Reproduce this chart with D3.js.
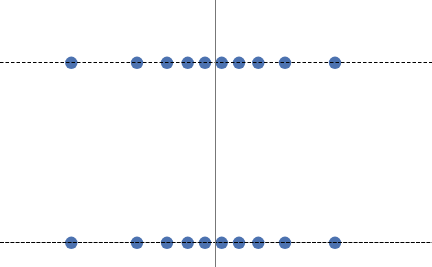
<!DOCTYPE html>
<html>
<head>
<meta charset="utf-8">
<script src="https://cdn.jsdelivr.net/npm/d3@7"></script>
<style>
  body { margin: 0; background: #fff; }
  svg { display: block; }
</style>
</head>
<body>
<svg id="chart" width="432" height="267"></svg>
<script>
var width = 432,
	height = 267;

// values (same values in both rows)
var xValues = [-1.44, -0.783, -0.483, -0.276, -0.103, 0.064, 0.237, 0.43, 0.697, 1.197];
var rows = [0, 1];
var refLines = [
	{ row: 0, dash: "3.5,2" },
	{ row: 1, dash: "4,1.2" }
];
var vLine = 0;

var svg = d3.select("#chart");

var x = d3.scaleLinear()
	.domain([-2.153, 2.167])
	.range([0, width]);

var y = d3.scalePoint()
	.domain(rows)
	.range([62.5, 242.5]);

var points = [];
rows.forEach(function(r){
	xValues.forEach(function(v){
		points.push({row: r, x: v});
	});
});

svg.selectAll(".dot")
	.data(points)
	.enter().append("circle")
	.attr("class", "dot")
	.attr("cx", function(d){ return x(d.x); })
	.attr("cy", function(d){ return y(d.row) + 0.3; })
	.attr("r", 6.2)
	.attr("fill", "#4c72b0");

// horizontal dashed lines, drawn over the dots
svg.selectAll(".hline")
	.data(refLines)
	.enter().append("line")
	.attr("class", "hline")
	.attr("x1", 0)
	.attr("x2", width)
	.attr("y1", function(d){ return y(d.row); })
	.attr("y2", function(d){ return y(d.row); })
	.attr("stroke", "#000")
	.attr("stroke-width", 1)
	.attr("stroke-dasharray", function(d){ return d.dash; });

// vertical line at zero
svg.append("line")
	.attr("x1", Math.round(x(vLine)) + 0.5)
	.attr("x2", Math.round(x(vLine)) + 0.5)
	.attr("y1", 0)
	.attr("y2", height)
	.attr("stroke", "#777")
	.attr("stroke-width", 1);
</script>
</body>
</html>
